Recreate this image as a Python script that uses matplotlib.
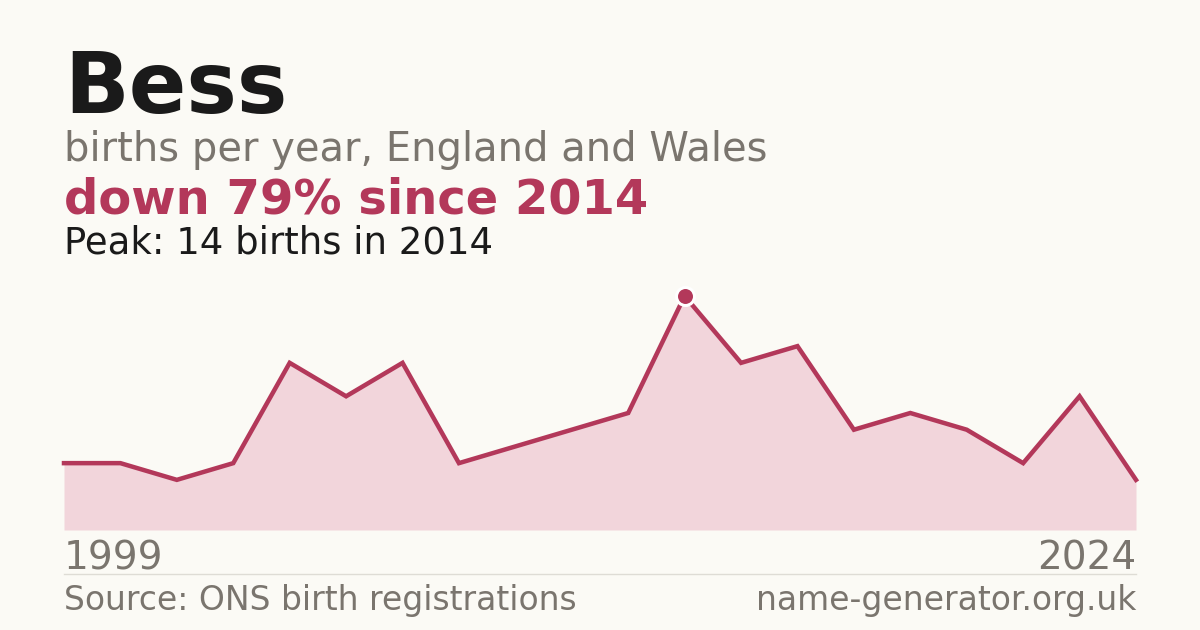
import matplotlib
matplotlib.use("Agg")
import matplotlib.pyplot as plt

plt.rcParams["font.family"] = ["DejaVu Sans"]

# births per year for the name (years with suppressed counts are left out)
years = [1999, 2000, 2001, 2002, 2004, 2005, 2006, 2008, 2009, 2010,
         2012, 2014, 2015, 2016, 2018, 2019, 2020, 2022, 2023, 2024]
births = [4, 4, 3, 4, 10, 8, 10, 4, 5, 6,
          7, 14, 10, 11, 6, 7, 6, 4, 8, 3]

BG = "#fbfaf5"
RED = "#b3385a"
FILL = "#f2d5db"
GREY = "#7a756e"
INK = "#1a1a1a"

W, H = 1200, 630
fig = plt.figure(figsize=(W / 100, H / 100), dpi=100, facecolor=BG)

def px(v):
    # pixel size -> points
    return v * 0.72

# chart area: x 64..1136, value 0 at y=530, peak at y=296
peak = max(births)
peak_i = births.index(peak)
ax = fig.add_axes([64 / W, (H - 530) / H, (1136 - 64) / W, (530 - 296) / H])
ax.set_facecolor("none")
xs = list(range(len(years)))
ax.fill_between(xs, births, 0, color=FILL, lw=0)
ax.plot(xs, births, color=RED, lw=px(4.5), solid_joinstyle="miter", clip_on=False)
ax.plot([peak_i], [peak], marker="o", ms=px(18), color=RED, mec="white", mew=px(3),
        clip_on=False, zorder=5)
ax.set_xlim(0, len(years) - 1)
ax.set_ylim(0, peak)
ax.axis("off")

# headings
fig.text(64 / W, 1 - 113 / H, "Bess", fontsize=px(85), fontweight="bold", color=INK,
         ha="left", va="baseline")
fig.text(64 / W, 1 - 161 / H, "births per year, England and Wales", fontsize=px(40),
         color=GREY, ha="left", va="baseline")
drop = round((peak - births[-1]) / peak * 100)
fig.text(64 / W, 1 - 214 / H, f"down {drop}% since {years[peak_i]}", fontsize=px(48),
         fontweight="bold", color=RED, ha="left", va="baseline")
fig.text(64 / W, 1 - 254 / H, f"Peak: {peak} births in {years[peak_i]}", fontsize=px(37),
         color=INK, ha="left", va="baseline")

# axis year labels
fig.text(64 / W, 1 - 569 / H, str(years[0]), fontsize=px(39), color=GREY,
         ha="left", va="baseline")
fig.text(1136 / W, 1 - 569 / H, str(years[-1]), fontsize=px(39), color=GREY,
         ha="right", va="baseline")

# separator and footer
fig.add_artist(plt.Line2D([64 / W, 1136 / W], [1 - 574 / H, 1 - 574 / H],
                          color="#dedcd5", lw=1))
fig.text(64 / W, 1 - 610 / H, "Source: ONS birth registrations", fontsize=px(33),
         color=GREY, ha="left", va="baseline")
fig.text(1136 / W, 1 - 610 / H, "name-generator.org.uk", fontsize=px(33),
         color=GREY, ha="right", va="baseline")

fig.savefig("out.png", dpi=100, facecolor=BG)
